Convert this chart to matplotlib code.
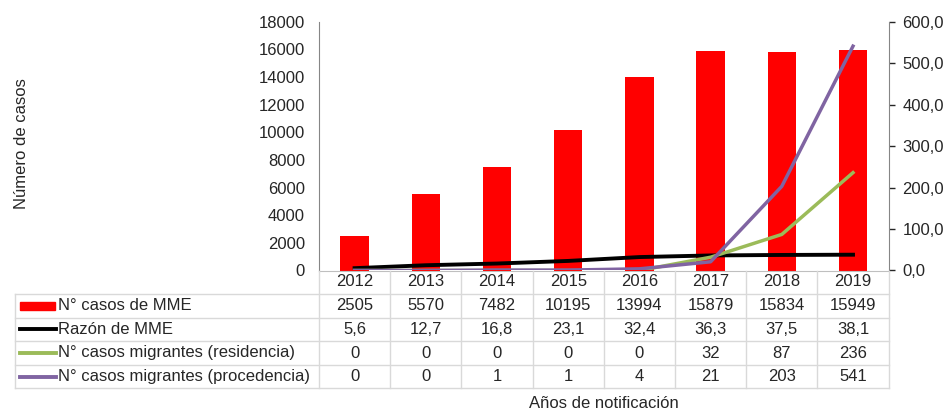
import matplotlib
matplotlib.use("Agg")
import matplotlib.pyplot as plt
from matplotlib.lines import Line2D
from matplotlib.patches import Rectangle
from matplotlib.transforms import blended_transform_factory

plt.rcParams['font.family'] = ['Liberation Sans', 'DejaVu Sans']

years = ["2012", "2013", "2014", "2015", "2016", "2017", "2018", "2019"]
casos_mme = [2505, 5570, 7482, 10195, 13994, 15879, 15834, 15949]
razon_mme = [5.6, 12.7, 16.8, 23.1, 32.4, 36.3, 37.5, 38.1]
migr_residencia = [0, 0, 0, 0, 0, 32, 87, 236]
migr_procedencia = [0, 0, 1, 1, 4, 21, 203, 541]
series_labels = ["N° casos de MME", "Razón de MME",
                 "N° casos migrantes (residencia)", "N° casos migrantes (procedencia)"]
table_rows = [
    [str(v) for v in casos_mme],
    [f"{v:.1f}".replace(".", ",") for v in razon_mme],
    [str(v) for v in migr_residencia],
    [str(v) for v in migr_procedencia],
]
colors = ["#FF0000", "#000000", "#9BBB59", "#8064A2"]
FS = 12
TC = '#262626'

W, H = 948, 413
fig = plt.figure(figsize=(W / 100, H / 100), dpi=100)

def fx(px):
    return px / W

def fy(py):
    return 1 - py / H

ax_left, ax_right, ax_bot, ax_top = 319.0, 888.6, 270.5, 21.7
ax = fig.add_axes([fx(ax_left), fy(ax_bot), fx(ax_right - ax_left), (ax_bot - ax_top) / H])
ax2 = ax.twinx()

x = list(range(len(years)))
ax.bar(x, casos_mme, width=0.40, color=colors[0], zorder=2)
ax.set_xlim(-0.5, len(years) - 0.5)
ax.set_ylim(0, 18000)
ax.set_yticks(range(0, 18001, 2000))
ax.tick_params(axis='y', length=0, pad=10, labelsize=FS, colors=TC)
ax.set_xticks([])

ax2.plot(x, razon_mme, color=colors[1], lw=2.8, zorder=3)
ax2.plot(x, migr_residencia, color=colors[2], lw=2.5, zorder=3)
ax2.plot(x, migr_procedencia, color=colors[3], lw=2.5, zorder=3)
ax2.set_ylim(0, 600)
ax2.set_yticks(range(0, 601, 100))
ax2.set_yticklabels([f"{v:.1f}".replace(".", ",") for v in range(0, 601, 100)])
ax2.tick_params(axis='y', length=4, width=1, pad=6, labelsize=FS, colors=TC)

for a in (ax, ax2):
    a.spines['top'].set_visible(False)
    a.spines['bottom'].set_color('#BFBFBF')
    a.spines['left'].set_color('#868686')
    a.spines['right'].set_color('#868686')
ax2.spines['left'].set_visible(False)
ax.spines['right'].set_visible(False)
ax2.spines['bottom'].set_visible(False)

fig.text(fx(22), fy(144), "Número de casos", rotation=90, ha='center', va='center',
         fontsize=FS, color=TC)

# table
grid_c = '#D9D9D9'
row_edges = [270.5, 293.5, 317.5, 341, 365, 388]
tbl_left = 15
for i, yy in enumerate(row_edges[1:]):
    fig.add_artist(Line2D([fx(tbl_left), fx(ax_right)], [fy(yy), fy(yy)],
                          color=grid_c, lw=1))
fig.add_artist(Line2D([fx(tbl_left), fx(tbl_left)], [fy(row_edges[1]), fy(row_edges[-1])],
                      color=grid_c, lw=1))
bt = blended_transform_factory(ax.transData, fig.transFigure)
for i in range(len(years) + 1):
    xe = i - 0.5
    fig.add_artist(Line2D([xe, xe], [fy(row_edges[0]), fy(row_edges[-1])],
                          color=grid_c, lw=1, transform=bt))

for i, yr in enumerate(years):
    yc = (row_edges[0] + row_edges[1]) / 2
    fig.text(i, fy(yc), yr, transform=bt, ha='center', va='center', fontsize=FS,
             color=TC)
for r, row in enumerate(table_rows):
    yc = (row_edges[r + 1] + row_edges[r + 2]) / 2
    for i, val in enumerate(row):
        fig.text(i, fy(yc), val, transform=bt, ha='center', va='center', fontsize=FS,
                 color=TC)
    # legend key
    if r == 0:
        fig.add_artist(Rectangle((fx(20), fy(yc + 4)), fx(35), 8 / H,
                                 color=colors[0], transform=fig.transFigure))
    else:
        fig.add_artist(Line2D([fx(20), fx(56)], [fy(yc), fy(yc)], color=colors[r],
                              lw=2.8, transform=fig.transFigure))
    fig.text(fx(58), fy(yc), series_labels[r], ha='left', va='center', fontsize=FS,
             color=TC)

fig.text(fx(604), fy(403), "Años de notificación", ha='center', va='center',
         fontsize=FS, color=TC)

fig.savefig("out.png", dpi=100, facecolor='white')
